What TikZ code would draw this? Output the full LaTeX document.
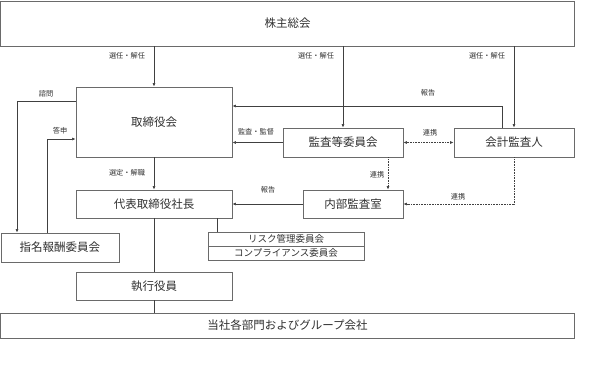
\documentclass[tikz,border=0pt]{standalone}
\usepackage{fontspec}
\setmainfont{Noto Sans CJK JP}
\usetikzlibrary{arrows.meta}
\definecolor{boxgray}{HTML}{6A6A6A}
\definecolor{linegray}{HTML}{404040}
\definecolor{txt}{HTML}{303030}
\begin{document}
\begin{tikzpicture}[x=1pt,y=-1pt,
  box/.style={draw=boxgray, line width=0.9pt, inner sep=0pt, text=txt, font=\fontsize{11.5}{12}\selectfont},
  sbox/.style={draw=boxgray, line width=0.9pt, inner sep=0pt, text=txt, font=\fontsize{9.5}{10}\selectfont},
  lbl/.style={inner sep=0pt, text=txt, font=\fontsize{7.2}{8}\selectfont},
  ln/.style={draw=linegray, line width=0.6pt},
  arr/.style={ln, -{Latex[length=3.5pt,width=3pt]}},
  darr/.style={ln, dash pattern=on 0.8pt off 0.8pt, {Latex[length=3.5pt,width=3pt]}-{Latex[length=3.5pt,width=3pt]}},
  dotarr/.style={ln, dash pattern=on 0.8pt off 0.8pt, -{Latex[length=3.5pt,width=3pt]}}]
\useasboundingbox (0,0) rectangle (589,367);
% boxes
\node[box, minimum width=574pt, minimum height=45pt] (kabu) at (287.5,23.5) {株主総会};
\node[box, minimum width=156pt, minimum height=70pt] (tori) at (154,122) {取締役会};
\node[box, minimum width=156pt, minimum height=28pt] (daihyo) at (154,204) {代表取締役社長};
\node[box, minimum width=118pt, minimum height=29pt] (shimei) at (60,247.5) {指名報酬委員会};
\node[box, minimum width=156pt, minimum height=28pt] (shikko) at (154,286) {執行役員};
\node[box, minimum width=574pt, minimum height=25pt] (tousha) at (287.5,325.5) {当社各部門およびグループ会社};
\node[sbox, minimum width=156pt, minimum height=14pt] (risk) at (286,239) {リスク管理委員会};
\node[sbox, minimum width=156pt, minimum height=14pt] (comp) at (286,253) {コンプライアンス委員会};
\node[box, minimum width=100pt, minimum height=28pt] (naibu) at (353,204) {内部監査室};
\node[box, minimum width=120pt, minimum height=29pt] (kansa) at (343,142.5) {監査等委員会};
\node[box, minimum width=120pt, minimum height=29pt] (kaikei) at (514,142.5) {会計監査人};
% connectors
\draw[arr] (tori.north |- kabu.south) -- (tori.north);
\draw[arr] (kansa.north |- kabu.south) -- (kansa.north);
\draw[arr] (kaikei.north |- kabu.south) -- (kaikei.north);
\draw[arr] ([xshift=-12pt]kaikei.north) |- ([yshift=16pt]tori.east);
\draw[arr] (kansa.west) -- (kansa.west -| tori.east);
\draw[darr] (kansa.east) -- (kaikei.west);
\draw[dotarr] ([xshift=45pt]kansa.south) -- ([xshift=45pt]kansa.south |- naibu.north);
\draw[dotarr] (kaikei.south) |- (naibu.east);
\draw[arr] (naibu.west) -- (naibu.west -| daihyo.east);
\draw[arr] (tori.south) -- (daihyo.north);
\draw[arr] ([yshift=21pt]tori.west) -| ([xshift=-43pt]shimei.north);
\draw[arr] ([xshift=-13pt]shimei.north) |- ([yshift=-17pt]tori.west);
\draw[ln] (daihyo.south) -- (shikko.north);
\draw[ln] (shikko.south) -- (shikko.south |- tousha.north);
\draw[ln] ([xshift=63pt]daihyo.south) -- ([xshift=63pt]daihyo.south |- risk.north);
% labels
\node[lbl] (l1) at (127,56) {選任・解任};
\node[lbl] (l2) at (316,56) {選任・解任};
\node[lbl] (l3) at (487,56) {選任・解任};
\node[lbl] (l4) at (428,93) {報告};
\node[lbl] (l5) at (256,132) {監査・監督};
\node[lbl] (l6) at (430,133) {連携};
\node[lbl] (l7) at (377,175) {連携};
\node[lbl] (l8) at (458,197) {連携};
\node[lbl] (l9) at (268,190) {報告};
\node[lbl] (l10) at (127,173) {選定・解職};
\node[lbl] (l11) at (46,94) {諮問};
\node[lbl] (l12) at (60,131) {答申};
\end{tikzpicture}
\end{document}
